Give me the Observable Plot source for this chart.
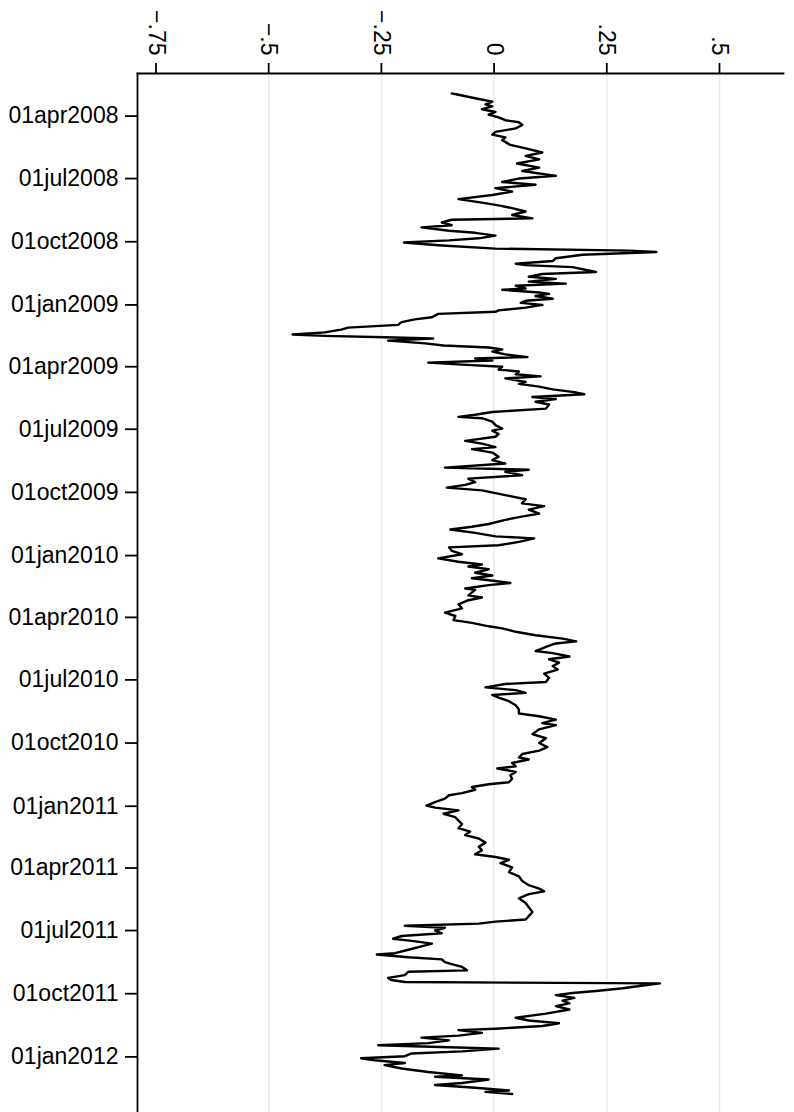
<!DOCTYPE html>
<html>
<head>
<meta charset="utf-8">
<script src="https://cdn.jsdelivr.net/npm/d3@7"></script>
<script src="https://cdn.jsdelivr.net/npm/@observablehq/plot@0.6"></script>
<style>
  html, body { margin: 0; padding: 0; background: #fff; }
  #chart svg [aria-label="x-axis tick"], #chart svg [aria-label="y-axis tick"] { stroke-width: 1.8px; }
</style>
</head>
<body>
<div id="chart"></div>
<script>
// Series: days since 2008-04-01 and value
const baseDate = "2008-04-01";
const dayOffsets = [
  -33,-31,-26,-21,-17,-14,-10,-6,-2,2,6,9,13,18,23,27,31,35,42,47,
  53,58,63,69,75,80,87,91,96,100,105,110,115,121,126,130,134,139,144,149,
  151,155,159,162,167,170,174,178,181,184,188,193,196,
  198,202,207,211,215,217,220,227,230,234,237,241,244,247,251,253,257,259,262,266,
  269,272,275,279,283,285,288,293,296,300,304,308,311,315,318,320,322,324,327,331,
  334,337,340,343,347,351,353,356,359,362,365,369,372,376,379,382,387,390,394,398,
  402,405,409,412,416,420,426,431,435,
  438,440,445,450,455,458,463,467,473,477,482,485,490,496,501,506,512,515,518,523,
  528,533,537,541,545,549,553,558,564,568,573,579,584,588,594,598,602,607,612,615,
  620,625,628,633,638,644,649,653,656,660,665,669,673,677,680,683,688,
  690,698,701,705,711,717,723,728,734,738,743,746,751,756,761,765,768,773,779,782,
  787,791,796,801,806,812,818,824,827,832,836,840,843,847,852,858,864,870,874,879,
  884,887,893,900,906,913,919,924,929,934,
  937,942,947,950,955,960,965,970,973,977,981,986,989,994,999,1004,1007,1011,1016,1021,
  1026,1031,1037,1042,1047,1052,1058,1064,1069,1075,1079,1083,1088,1094,1101,1107,1114,1120,1125,1129,
  1133,1139,1146,1152,1159,1165,1170,1173,1176,1179,
  1182,1186,1190,1194,1198,1201,1205,1209,1214,1219,1221,1225,1228,1232,1235,1239,1244,1246,1251,1255,
  1258,1261,1263,1266,1270,1274,1277,1280,1284,1288,1292,1296,1301,1307,1313,1317,1321,1325,1329,1331,
  1335,1339,1342,1346,1350,1353,1356,1358,1362,1365,1369,1372,1375,1379,1382,1387,1392,1397,1399,1403,
  1408,1411,1415,1419,1421,1424
];
const values = [
  -0.094,-0.079,-0.042,-0.004,-0.019,-0.004,-0.027,0.003,-0.012,0.01,0.025,0.055,0.0625,0.048,0.003,-0.004,0.025,0.018,0.036,0.07,
  0.107,0.07,0.10,0.051,0.10,0.0625,0.137,0.055,0.018,0.092,0.003,0.04,-0.004,-0.079,-0.027,0.01,0.04,0.07,0.04,0.085,
  -0.094,-0.116,-0.094,-0.161,-0.10,-0.042,0.003,-0.034,-0.10,-0.20,-0.124,0.003,0.30,
  0.36,0.196,0.137,0.13,0.048,0.07,0.174,0.226,0.107,0.077,0.137,0.077,0.159,0.048,0.07,0.018,0.10,0.122,0.092,0.13,
  0.07,0.059,0.107,0.07,0.01,0.003,-0.124,-0.138,-0.176,-0.205,-0.213,-0.324,-0.339,-0.376,-0.447,-0.376,-0.243,-0.135,-0.235,-0.153,
  -0.112,-0.012,0.018,-0.004,0.025,0.074,-0.042,-0.004,-0.146,-0.071,0.018,0.01,0.055,0.048,0.103,0.025,0.07,0.055,0.10,0.13,
  0.178,0.20,0.085,0.137,0.092,0.122,0.115,-0.004,-0.042,
  -0.079,-0.027,-0.004,0.003,0.018,-0.004,0.01,0.003,-0.064,-0.027,0.003,-0.049,-0.004,0.01,-0.004,0.025,-0.109,0.077,0.025,0.062,
  -0.057,-0.042,-0.064,-0.105,-0.027,0.003,0.033,0.07,0.062,0.111,0.077,0.10,0.055,0.025,-0.012,-0.049,-0.097,-0.042,0.003,0.089,
  0.055,0.01,-0.10,-0.094,-0.071,-0.124,-0.079,-0.027,-0.057,-0.012,-0.042,-0.004,-0.049,0.003,0.036,-0.012,-0.064,
  -0.042,-0.057,-0.027,-0.057,-0.079,-0.071,-0.109,-0.086,-0.09,-0.049,-0.012,0.018,0.048,0.092,0.152,0.182,0.137,0.115,0.092,0.13,
  0.167,0.122,0.144,0.13,0.141,0.111,0.122,0.115,0.025,-0.019,0.048,0.07,-0.004,0.01,0.033,0.048,0.055,0.055,0.10,0.137,
  0.107,0.137,0.10,0.085,0.115,0.10,0.118,0.10,0.0625,0.055,
  0.077,0.04,0.048,0.007,0.048,0.036,0.04,0.033,-0.012,-0.049,-0.042,-0.071,-0.10,-0.109,-0.131,-0.15,-0.131,-0.079,-0.112,-0.086,
  -0.079,-0.071,-0.079,-0.053,-0.064,-0.034,-0.019,-0.034,-0.027,-0.042,0.003,0.033,0.014,0.04,0.033,0.055,0.0625,0.077,0.10,0.111,
  0.077,0.055,0.07,0.077,0.085,0.077,0.07,0.003,-0.034,-0.198,
  -0.109,-0.131,-0.116,-0.205,-0.224,-0.183,-0.138,-0.161,-0.19,-0.22,-0.26,-0.19,-0.116,-0.109,-0.094,-0.071,-0.06,-0.19,-0.198,-0.235,
  -0.228,-0.198,0.368,0.33,0.286,0.226,0.174,0.137,0.178,0.152,0.167,0.137,0.167,0.115,0.048,0.077,0.144,0.107,0.003,-0.079,
  -0.027,-0.079,-0.161,-0.10,-0.146,-0.257,-0.10,0.01,-0.071,-0.183,-0.198,-0.295,-0.265,-0.198,-0.243,-0.205,-0.146,-0.071,-0.131,-0.012,
  -0.071,-0.131,-0.042,0.033,-0.019,0.04
];

// Axes
const valueTicks = [-0.75, -0.5, -0.25, 0, 0.25, 0.5];
const gridValues = [-0.5, -0.25, 0, 0.25, 0.5];
const valueDomain = [-0.791, 0.642];
const dateTickStrings = [
  "2008-04-01","2008-07-01","2008-10-01","2009-01-01","2009-04-01","2009-07-01",
  "2009-10-01","2010-01-01","2010-04-01","2010-07-01","2010-10-01","2011-01-01",
  "2011-04-01","2011-07-01","2011-10-01","2012-01-01"
];
const dateDomainStrings = ["2008-01-30", "2012-03-22"];

const base = new Date(baseDate);
const data = dayOffsets.map((d, i) => ({ date: d3.utcDay.offset(base, d), value: values[i] }));
const dateTicks = dateTickStrings.map(s => new Date(s));
const fmtDate = d => d3.utcFormat("%d%b%Y")(d).toLowerCase();
const fmtVal = v => {
  if (v === 0) return "0";
  const s = String(Math.abs(v)).replace(/^0/, "");
  return (v < 0 ? "\u2212" : "") + s;
};

const chart = Plot.plot({
  width: 794,
  height: 1112,
  marginLeft: 137,
  marginTop: 73,
  marginRight: 11,
  marginBottom: 0,
  style: { fontFamily: "'Liberation Sans', Arial, Helvetica, sans-serif", fontSize: "23px", background: "#fff", color: "#000", overflow: "visible" },
  x: { domain: valueDomain, label: null },
  y: { type: "utc", domain: dateDomainStrings.map(s => new Date(s)), reverse: true, label: null },
  marks: [
    Plot.ruleX(gridValues, { stroke: "#e4edf0", strokeWidth: 1.6 }),
    Plot.line(data, { x: "value", y: "date", stroke: "#000", strokeWidth: 2.4, strokeLinejoin: "round" }),
    Plot.frame({ anchor: "left", stroke: "#000", strokeWidth: 1.8 }),
    Plot.frame({ anchor: "top", stroke: "#000", strokeWidth: 1.8 }),
    Plot.axisX({ anchor: "top", ticks: valueTicks, tickFormat: fmtVal, tickSize: 11, tickPadding: 7,
                 tickRotate: 90, textAnchor: "end", lineAnchor: "middle", label: null }),
    Plot.axisY({ anchor: "left", ticks: dateTicks, tickFormat: fmtDate, tickSize: 12, tickPadding: 7, label: null })
  ]
});
document.getElementById("chart").appendChild(chart);
</script>
</body>
</html>
